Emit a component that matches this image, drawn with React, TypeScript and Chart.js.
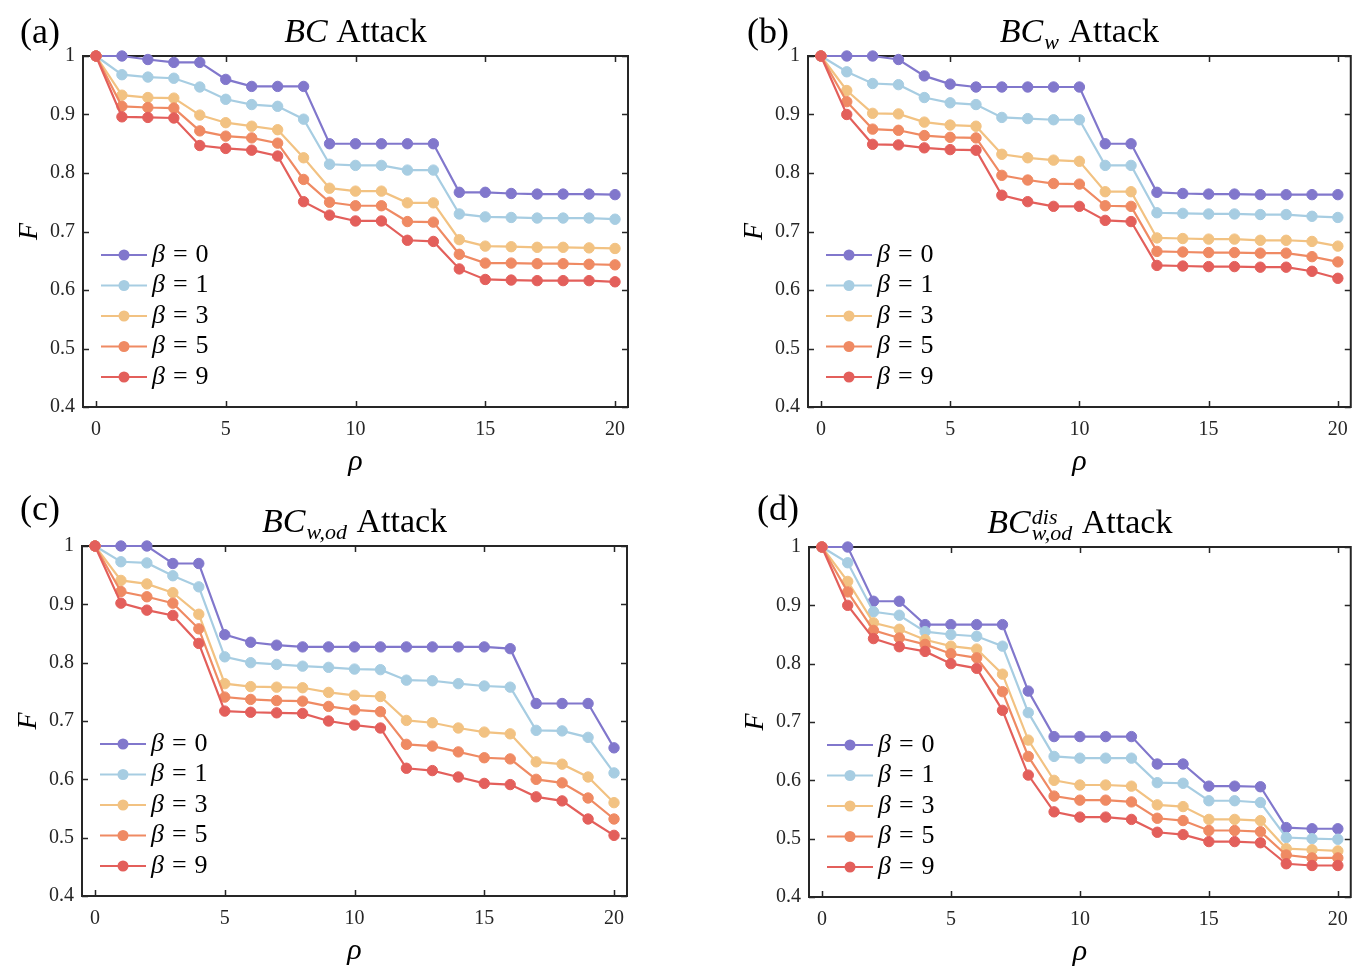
import React, { useEffect, useRef } from 'react';
import { Chart, registerables } from 'chart.js';

Chart.register(...registerables);

// ---------- data ----------
const rho = [0, 1, 2, 3, 4, 5, 6, 7, 8, 9, 10, 11, 12, 13, 14, 15, 16, 17, 18, 19, 20];
const xTicks = [0, 5, 10, 15, 20];
const yTicks = [0.4, 0.5, 0.6, 0.7, 0.8, 0.9, 1.0];
const yTickLabels = ['0.4', '0.5', '0.6', '0.7', '0.8', '0.9', '1'];
const betaLabels = ['0', '1', '3', '5', '9'];
const seriesColors = ['#8177cc', '#a7cde2', '#f2c282', '#ef8a63', '#e35f5b'];

// (a) BC Attack
const bcBeta0 = [1.000, 1.000, 0.994, 0.989, 0.989, 0.960, 0.948, 0.948, 0.948, 0.850, 0.850, 0.850, 0.850, 0.850, 0.767, 0.767, 0.765, 0.764, 0.764, 0.764, 0.763];
const bcBeta1 = [1.000, 0.968, 0.964, 0.962, 0.947, 0.926, 0.917, 0.914, 0.892, 0.815, 0.813, 0.813, 0.805, 0.805, 0.730, 0.725, 0.724, 0.723, 0.723, 0.723, 0.721];
const bcBeta3 = [1.000, 0.933, 0.929, 0.928, 0.899, 0.886, 0.880, 0.874, 0.826, 0.774, 0.769, 0.769, 0.749, 0.749, 0.686, 0.675, 0.674, 0.673, 0.673, 0.672, 0.671];
const bcBeta5 = [1.000, 0.914, 0.912, 0.911, 0.872, 0.863, 0.860, 0.851, 0.789, 0.750, 0.744, 0.744, 0.717, 0.716, 0.661, 0.646, 0.646, 0.645, 0.645, 0.644, 0.643];
const bcBeta9 = [1.000, 0.896, 0.895, 0.894, 0.847, 0.842, 0.839, 0.829, 0.751, 0.728, 0.718, 0.718, 0.685, 0.683, 0.636, 0.618, 0.617, 0.616, 0.616, 0.616, 0.614];

// (b) BC_w Attack
const bcwBeta0 = [1.000, 1.000, 1.000, 0.994, 0.966, 0.952, 0.947, 0.947, 0.947, 0.947, 0.947, 0.850, 0.850, 0.767, 0.765, 0.764, 0.764, 0.763, 0.763, 0.763, 0.763];
const bcwBeta1 = [1.000, 0.973, 0.953, 0.951, 0.929, 0.920, 0.917, 0.895, 0.893, 0.891, 0.891, 0.813, 0.813, 0.732, 0.731, 0.730, 0.730, 0.729, 0.729, 0.726, 0.724];
const bcwBeta3 = [1.000, 0.941, 0.902, 0.901, 0.887, 0.882, 0.880, 0.832, 0.826, 0.822, 0.820, 0.768, 0.768, 0.689, 0.688, 0.687, 0.687, 0.685, 0.685, 0.683, 0.675];
const bcwBeta5 = [1.000, 0.922, 0.875, 0.873, 0.864, 0.861, 0.860, 0.796, 0.788, 0.782, 0.781, 0.744, 0.743, 0.666, 0.665, 0.664, 0.664, 0.663, 0.663, 0.657, 0.648];
const bcwBeta9 = [1.000, 0.900, 0.849, 0.848, 0.843, 0.840, 0.839, 0.762, 0.751, 0.743, 0.743, 0.719, 0.717, 0.642, 0.641, 0.640, 0.640, 0.639, 0.639, 0.632, 0.620];

// (c) BC_{w,od} Attack
const bcwodBeta0 = [1.000, 1.000, 1.000, 0.970, 0.970, 0.848, 0.835, 0.830, 0.827, 0.827, 0.827, 0.827, 0.827, 0.827, 0.827, 0.827, 0.824, 0.730, 0.730, 0.730, 0.654];
const bcwodBeta1 = [1.000, 0.973, 0.971, 0.949, 0.930, 0.810, 0.800, 0.797, 0.794, 0.792, 0.789, 0.788, 0.770, 0.769, 0.764, 0.760, 0.758, 0.684, 0.683, 0.672, 0.611];
const bcwodBeta3 = [1.000, 0.941, 0.935, 0.920, 0.883, 0.764, 0.759, 0.758, 0.757, 0.749, 0.744, 0.742, 0.701, 0.697, 0.688, 0.681, 0.678, 0.630, 0.626, 0.604, 0.560];
const bcwodBeta5 = [1.000, 0.922, 0.913, 0.902, 0.858, 0.741, 0.737, 0.735, 0.734, 0.725, 0.719, 0.716, 0.660, 0.657, 0.647, 0.637, 0.635, 0.600, 0.594, 0.568, 0.532];
const bcwodBeta9 = [1.000, 0.902, 0.890, 0.881, 0.833, 0.717, 0.715, 0.714, 0.713, 0.700, 0.693, 0.688, 0.619, 0.615, 0.604, 0.593, 0.591, 0.570, 0.563, 0.532, 0.504];

// (d) BC^{dis}_{w,od} Attack
const bcdisBeta0 = [1.000, 1.000, 0.907, 0.907, 0.867, 0.867, 0.867, 0.867, 0.753, 0.675, 0.675, 0.675, 0.675, 0.628, 0.628, 0.590, 0.590, 0.589, 0.519, 0.517, 0.517];
const bcdisBeta1 = [1.000, 0.973, 0.889, 0.883, 0.855, 0.850, 0.847, 0.830, 0.716, 0.641, 0.638, 0.638, 0.638, 0.596, 0.595, 0.565, 0.565, 0.562, 0.502, 0.500, 0.499];
const bcdisBeta3 = [1.000, 0.941, 0.870, 0.859, 0.841, 0.830, 0.825, 0.782, 0.669, 0.600, 0.592, 0.592, 0.590, 0.558, 0.555, 0.533, 0.533, 0.531, 0.483, 0.481, 0.479];
const bcdisBeta5 = [1.000, 0.923, 0.857, 0.844, 0.833, 0.817, 0.810, 0.752, 0.641, 0.573, 0.566, 0.566, 0.563, 0.535, 0.531, 0.514, 0.514, 0.512, 0.472, 0.467, 0.467];
const bcdisBeta9 = [1.000, 0.900, 0.843, 0.829, 0.821, 0.800, 0.792, 0.720, 0.609, 0.546, 0.537, 0.537, 0.533, 0.511, 0.507, 0.495, 0.495, 0.493, 0.457, 0.454, 0.454];

// ---------- layout ----------
type PanelSpec = {
  label: string;
  sub: string;
  sup: string;
  series: number[][];
  left: number; top: number; w: number; h: number;
  area: { L: number; T: number; R: number; B: number };
  labelX: number; labelY: number;
};

const panels: PanelSpec[] = [
  { label: '(a)', sub: '', sup: '', series: [bcBeta0, bcBeta1, bcBeta3, bcBeta5, bcBeta9],
    left: 0, top: 0, w: 690, h: 484, area: { L: 83, T: 56, R: 628, B: 407 }, labelX: 40, labelY: 43 },
  { label: '(b)', sub: 'w', sup: '', series: [bcwBeta0, bcwBeta1, bcwBeta3, bcwBeta5, bcwBeta9],
    left: 690, top: 0, w: 669, h: 484, area: { L: 808, T: 56, R: 1353, B: 407 }, labelX: 768, labelY: 43 },
  { label: '(c)', sub: 'w,od', sup: '', series: [bcwodBeta0, bcwodBeta1, bcwodBeta3, bcwodBeta5, bcwodBeta9],
    left: 0, top: 484, w: 690, h: 483, area: { L: 82, T: 546, R: 627, B: 896 }, labelX: 40, labelY: 520 },
  { label: '(d)', sub: 'w,od', sup: 'dis', series: [bcdisBeta0, bcdisBeta1, bcdisBeta3, bcdisBeta5, bcdisBeta9],
    left: 690, top: 484, w: 669, h: 483, area: { L: 809, T: 547, R: 1353, B: 897 }, labelX: 778, labelY: 520 },
];

const SERIF = '"Liberation Serif", "Times New Roman", serif';
const AXIS_COLOR = '#262626';

function drawTitle(ctx: CanvasRenderingContext2D, cx: number, baseline: number, sub: string, sup: string) {
  const big = `italic 34px ${SERIF}`;
  const small = `italic 22px ${SERIF}`;
  const rom = `34px ${SERIF}`;
  ctx.font = big;
  const wBC = ctx.measureText('BC').width;
  ctx.font = small;
  const wSub = sub ? ctx.measureText(sub).width : 0;
  const wSup = sup ? ctx.measureText(sup).width : 0;
  const wScript = Math.max(wSub, wSup);
  ctx.font = rom;
  const wAtt = ctx.measureText(' Attack').width;
  const total = wBC + (wScript ? wScript + 2 : 0) + wAtt;
  let x = cx - total / 2;
  ctx.fillStyle = '#000';
  ctx.textAlign = 'left';
  ctx.textBaseline = 'alphabetic';
  ctx.font = big;
  ctx.fillText('BC', x, baseline);
  x += wBC;
  if (wScript) {
    ctx.font = small;
    if (sup) ctx.fillText(sup, x + 1, baseline - 9);
    if (sub) ctx.fillText(sub, x + 1, baseline + 7);
    x += wScript + 2;
  }
  ctx.font = rom;
  ctx.fillText(' Attack', x, baseline);
}

function makeOverlay(p: PanelSpec) {
  return {
    id: 'overlay',
    beforeDatasetsDraw(chart: any) {
      const { ctx, chartArea } = chart;
      const { left, right, top, bottom } = chartArea;
      const xs = chart.scales.x;
      const ys = chart.scales.y;
      ctx.save();
      ctx.strokeStyle = AXIS_COLOR;
      ctx.lineWidth = 2;
      ctx.strokeRect(left, top, right - left, bottom - top);
      ctx.beginPath();
      xTicks.forEach((v) => {
        const px = Math.round(xs.getPixelForValue(v)) + 0.5;
        ctx.moveTo(px, bottom);
        ctx.lineTo(px, bottom - 6);
        ctx.moveTo(px, top);
        ctx.lineTo(px, top + 6);
      });
      yTicks.forEach((v) => {
        const py = Math.round(ys.getPixelForValue(v)) + 0.5;
        ctx.moveTo(left, py);
        ctx.lineTo(left + 6, py);
        ctx.moveTo(right, py);
        ctx.lineTo(right - 6, py);
      });
      ctx.lineWidth = 1.5;
      ctx.stroke();
      ctx.restore();
    },
    afterDraw(chart: any) {
      const { ctx, chartArea } = chart;
      const { left, right, top, bottom } = chartArea;
      ctx.save();
      // legend
      betaLabels.forEach((b, i) => {
        const y = bottom - 30 - (betaLabels.length - 1 - i) * 30.5;
        ctx.strokeStyle = seriesColors[i];
        ctx.lineWidth = 2.2;
        ctx.beginPath();
        ctx.moveTo(left + 18, y);
        ctx.lineTo(left + 64, y);
        ctx.stroke();
        ctx.fillStyle = seriesColors[i];
        ctx.beginPath();
        ctx.arc(left + 41, y, 5.5, 0, Math.PI * 2);
        ctx.fill();
        ctx.fillStyle = '#000';
        ctx.textBaseline = 'middle';
        ctx.textAlign = 'left';
        let tx = left + 69;
        ctx.font = `italic 26px ${SERIF}`;
        ctx.fillText('β', tx, y);
        tx += ctx.measureText('β').width + 8;
        ctx.font = `26px ${SERIF}`;
        ctx.fillText('=', tx, y);
        tx += ctx.measureText('=').width + 8;
        ctx.fillText(b, tx, y);
      });
      // panel label
      ctx.fillStyle = '#000';
      ctx.textAlign = 'center';
      ctx.textBaseline = 'alphabetic';
      ctx.font = `36px ${SERIF}`;
      ctx.fillText(p.label, p.labelX - p.left, p.labelY - p.top);
      // title
      drawTitle(ctx, (left + right) / 2, top - 14, p.sub, p.sup);
      // axis titles
      ctx.font = `italic 30px ${SERIF}`;
      ctx.textAlign = 'center';
      ctx.textBaseline = 'middle';
      ctx.fillText('ρ', (left + right) / 2, bottom + 55);
      ctx.save();
      ctx.translate(left - 53, (top + bottom) / 2);
      ctx.rotate(-Math.PI / 2);
      ctx.font = `italic 28px ${SERIF}`;
      ctx.fillText('F', 0, 0);
      ctx.restore();
      ctx.restore();
    },
  };
}

function Panel({ p }: { p: PanelSpec }) {
  const ref = useRef<HTMLCanvasElement | null>(null);
  useEffect(() => {
    const canvas = ref.current;
    if (!canvas) return;
    const L = p.area.L - p.left;
    const T = p.area.T - p.top;
    const R = p.area.R - p.left;
    const B = p.area.B - p.top;
    const tickFont = { family: SERIF, size: 20 };
    const chart = new Chart(canvas, {
      type: 'line',
      data: {
        datasets: p.series.map((vals, i) => ({
          label: 'β = ' + betaLabels[i],
          data: vals.map((v, j) => ({ x: rho[j], y: v })),
          borderColor: seriesColors[i],
          backgroundColor: seriesColors[i],
          borderWidth: 2.2,
          pointRadius: 5.2,
          pointBorderWidth: 1,
          pointBackgroundColor: seriesColors[i],
          pointBorderColor: seriesColors[i],
          tension: 0,
          fill: false,
          clip: false as any,
          order: betaLabels.length - i,
        })),
      },
      options: {
        responsive: false,
        animation: false,
        devicePixelRatio: 1,
        events: [],
        layout: { padding: { left: 0, top: T, right: p.w - R, bottom: 0 } },
        plugins: {
          legend: { display: false },
          tooltip: { enabled: false },
          title: { display: false },
        },
        scales: {
          x: {
            type: 'linear',
            min: -0.5,
            max: 20.5,
            grid: { display: false, drawTicks: false },
            border: { display: false },
            afterBuildTicks: (s: any) => { s.ticks = xTicks.map((v) => ({ value: v })); },
            afterFit: (s: any) => { s.height = p.h - B; },
            ticks: {
              font: tickFont,
              color: AXIS_COLOR,
              padding: 11,
              maxRotation: 0,
              autoSkip: false,
              callback: (v: any) => String(v),
            },
          },
          y: {
            type: 'linear',
            min: 0.4,
            max: 1.0,
            grid: { display: false, drawTicks: false },
            border: { display: false },
            afterBuildTicks: (s: any) => { s.ticks = yTicks.map((v) => ({ value: v })); },
            afterFit: (s: any) => { s.width = L; },
            ticks: {
              font: tickFont,
              color: AXIS_COLOR,
              padding: 8,
              autoSkip: false,
              callback: (_v: any, idx: number) => yTickLabels[idx],
            },
          },
        },
      },
      plugins: [makeOverlay(p)],
    } as any);
    return () => chart.destroy();
  }, [p]);
  return (
    <canvas
      ref={ref}
      width={p.w}
      height={p.h}
      style={{ position: 'absolute', left: p.left, top: p.top, width: p.w, height: p.h }}
    />
  );
}

export default function App() {
  return (
    <div style={{ position: 'absolute', left: 0, top: 0, width: 1359, height: 967, background: '#fff', overflow: 'hidden' }}>
      {panels.map((p) => (
        <Panel key={p.label} p={p} />
      ))}
    </div>
  );
}
